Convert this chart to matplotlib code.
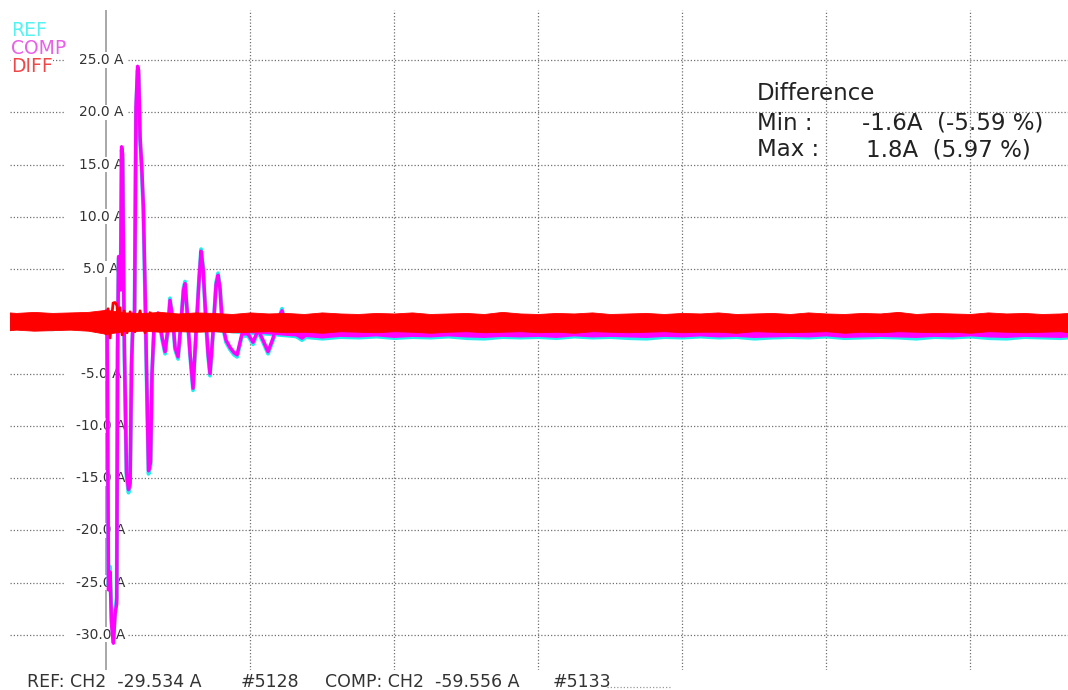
import matplotlib
matplotlib.use("Agg")
import matplotlib.pyplot as plt
from matplotlib.lines import Line2D

# time axis in grid divisions, currents in A

# transient part of COMP / REF
t_tr = [-0.069, -0.042, -0.014, 0.0, 0.007, 0.017, 0.028, 0.038, 0.051, 0.063,
        0.074, 0.080, 0.087, 0.097, 0.101, 0.108, 0.115, 0.122, 0.128, 0.142,
        0.156, 0.167, 0.177, 0.188, 0.198, 0.208, 0.219, 0.226, 0.236, 0.247,
        0.259, 0.271, 0.283, 0.295, 0.309, 0.319, 0.333, 0.361, 0.389, 0.410,
        0.431, 0.444, 0.465, 0.479, 0.500, 0.521, 0.538, 0.549, 0.563, 0.583,
        0.604, 0.625, 0.646, 0.660, 0.674, 0.694, 0.708, 0.722, 0.743, 0.764,
        0.778, 0.792, 0.806, 0.833, 0.861, 0.889, 0.910, 0.944, 0.986, 1.021,
        1.056, 1.090, 1.125, 1.160, 1.194, 1.222, 1.250, 1.292, 1.361, 1.417,
        1.472]
comp_tr = [0.3, -0.4, 0.5, 1.0, -0.5, -25.7, -24.0, -29.0, -30.8, -28.0,
           -27.0, -3.0, 6.2, 5.5, 3.0, 16.7, 16.0, 4.0, -3.0, -14.5,
           -16.1, -15.5, -4.0, 0.5, 1.0, 20.5, 24.4, 24.0, 17.7, 15.0,
           11.0, 3.0, -6.0, -14.3, -13.5, -5.0, -0.5, 0.8, -1.5, -2.9,
           -0.5, 2.0, 0.0, -2.5, -3.4, 0.0, 3.0, 3.6, 1.0, -3.0,
           -6.4, -1.0, 4.0, 6.7, 5.0, 0.0, -3.0, -5.0, -1.0, 3.5,
           4.4, 3.0, 0.0, -1.8, -2.5, -3.0, -3.2, -1.2, -1.2, -2.0,
           -0.8, -1.8, -2.9, -1.6, 0.2, 1.0, -0.5, -1.0, -1.6, -1.0,
           -0.6]
ref_tr = [0.1, -0.6, 0.3, 0.8, -0.3, -25.3, -23.5, -28.6, -30.4, -27.6,
          -26.5, -2.6, 6.0, 5.8, 3.3, 16.4, 15.6, 3.6, -3.3, -14.8,
          -16.4, -15.8, -4.3, 0.3, 0.8, 20.0, 24.0, 23.6, 17.3, 14.6,
          10.6, 2.6, -6.3, -14.6, -13.8, -5.3, -0.8, 0.6, -1.7, -3.1,
          -0.7, 2.2, -0.2, -2.7, -3.6, -0.2, 3.2, 3.8, 0.8, -3.2,
          -6.6, -1.2, 4.2, 6.9, 5.2, -0.2, -3.2, -5.2, -1.2, 3.7,
          4.6, 3.2, -0.2, -2.0, -2.7, -3.2, -3.4, -1.4, -1.4, -2.2,
          -1.0, -2.0, -3.1, -1.8, 0.0, 1.2, -0.7, -1.2, -1.8, -1.2,
          -0.8]

# DIFF disturbance during the transient
t_dtr = [-0.042, -0.021, 0.0, 0.014, 0.028, 0.042, 0.049, 0.063, 0.076, 0.087,
         0.097, 0.111, 0.125, 0.146, 0.167, 0.201, 0.236, 0.271, 0.306]
diff_tr = [0.6, -0.9, -1.2, 1.2, -1.6, 0.8, 1.75, 1.8, 1.5, -1.0,
           1.3, -1.3, 1.0, -1.1, 0.9, -1.0, 1.0, -1.1, 0.8]

# noise envelopes of the three traces
t_band = [-0.67, -0.625, -0.5, -0.375, -0.25, -0.125, 0.0, 0.125, 0.25, 0.375,
          0.5, 0.625, 0.75, 0.875, 1.0, 1.125, 1.25, 1.375, 1.5, 1.625,
          1.75, 1.875, 2.0, 2.125, 2.25, 2.375, 2.5, 2.625, 2.75, 2.875,
          3.0, 3.125, 3.25, 3.375, 3.5, 3.625, 3.75, 3.875, 4.0, 4.125,
          4.25, 4.375, 4.5, 4.625, 4.75, 4.875, 5.0, 5.125, 5.25, 5.375,
          5.5, 5.625, 5.75, 5.875, 6.0, 6.125, 6.25, 6.375, 6.5, 6.625,
          6.68]
diff_hi = [0.85, 0.8, 0.9, 0.8, 0.85, 0.9, 1.1, 0.85, 0.8, 0.9,
           0.75, 0.85, 0.8, 0.7, 0.85, 0.75, 0.8, 0.7, 0.85, 0.75,
           0.7, 0.8, 0.75, 0.85, 0.7, 0.75, 0.8, 0.7, 0.9, 0.75,
           0.7, 0.8, 0.75, 0.85, 0.7, 0.75, 0.8, 0.7, 0.8, 0.75,
           0.85, 0.7, 0.75, 0.8, 0.7, 0.85, 0.75, 0.7, 0.8, 0.75,
           0.9, 0.7, 0.8, 0.75, 0.7, 0.85, 0.75, 0.8, 0.7, 0.75,
           0.8]
diff_lo = [-0.85, -0.8, -0.9, -0.85, -0.8, -0.9, -1.2, -0.95, -0.9, -1.0,
           -0.95, -1.0, -0.95, -1.05, -1.0, -0.95, -1.05, -1.0, -1.1, -0.95,
           -1.0, -1.05, -0.95, -1.0, -1.1, -1.0, -0.95, -1.05, -1.0, -0.95,
           -1.05, -1.0, -1.1, -0.95, -1.0, -1.05, -1.0, -0.95, -1.05, -1.0,
           -1.0, -1.1, -0.95, -1.0, -1.05, -1.0, -0.95, -1.1, -1.0, -1.05,
           -0.95, -1.0, -1.05, -1.0, -1.1, -0.95, -1.0, -1.05, -1.0, -0.95,
           -1.05]
comp_hi = [0.5, 0.5, 0.5, 0.5, 0.5, 0.5, 0.5, 0.4, 0.3, 0.2,
           0.1, 0.0, -0.1, -0.2, -0.25, -0.3, -0.3, -0.3, -0.3, -0.3,
           -0.3, -0.3, -0.3, -0.3, -0.3, -0.3, -0.3, -0.3, -0.3, -0.3,
           -0.3, -0.3, -0.3, -0.3, -0.3, -0.3, -0.3, -0.3, -0.3, -0.3,
           -0.3, -0.3, -0.3, -0.3, -0.3, -0.3, -0.3, -0.3, -0.3, -0.3,
           -0.3, -0.3, -0.3, -0.3, -0.3, -0.3, -0.3, -0.3, -0.3, -0.3,
           -0.3]
comp_lo = [-0.6, -0.65, -0.6, -0.7, -0.6, -0.65, -0.6, -0.6, -0.6, -0.65,
           -0.7, -0.8, -0.9, -1.0, -1.1, -1.2, -1.35, -1.45, -1.6, -1.45,
           -1.5, -1.4, -1.55, -1.45, -1.5, -1.4, -1.5, -1.55, -1.45, -1.5,
           -1.45, -1.55, -1.4, -1.5, -1.45, -1.5, -1.55, -1.45, -1.5, -1.4,
           -1.5, -1.45, -1.55, -1.5, -1.45, -1.5, -1.4, -1.55, -1.5, -1.45,
           -1.5, -1.55, -1.45, -1.5, -1.4, -1.5, -1.55, -1.45, -1.5, -1.55,
           -1.5]
ref_hi = [0.3, 0.3, 0.3, 0.3, 0.3, 0.3, 0.3, 0.2, 0.1, 0.0,
          -0.1, -0.2, -0.3, -0.4, -0.45, -0.5, -0.5, -0.5, -0.5, -0.5,
          -0.5, -0.5, -0.5, -0.5, -0.5, -0.5, -0.5, -0.5, -0.5, -0.5,
          -0.5, -0.5, -0.5, -0.5, -0.5, -0.5, -0.5, -0.5, -0.5, -0.5,
          -0.5, -0.5, -0.5, -0.5, -0.5, -0.5, -0.5, -0.5, -0.5, -0.5,
          -0.5, -0.5, -0.5, -0.5, -0.5, -0.5, -0.5, -0.5, -0.5, -0.5,
          -0.5]
ref_lo = [-0.9, -0.75, -0.8, -0.9, -0.75, -0.85, -0.7, -0.7, -0.7, -0.75,
          -0.8, -0.9, -1.0, -1.1, -1.25, -1.35, -1.5, -1.65, -1.8, -1.65,
          -1.7, -1.6, -1.75, -1.65, -1.7, -1.6, -1.75, -1.8, -1.65, -1.7,
          -1.65, -1.75, -1.6, -1.7, -1.65, -1.75, -1.8, -1.65, -1.7, -1.6,
          -1.7, -1.65, -1.8, -1.7, -1.65, -1.7, -1.6, -1.75, -1.7, -1.65,
          -1.7, -1.8, -1.65, -1.7, -1.6, -1.75, -1.8, -1.65, -1.7, -1.75,
          -1.7]

y_ticks = [25, 20, 15, 10, 5, 0, -5, -10, -15, -20, -25, -30]
y_labels = ['25.0 A', '20.0 A', '15.0 A', '10.0 A', '5.0 A', '0.0 A', '-5.0 A',
            '-10.0 A', '-15.0 A', '-20.0 A', '-25.0 A', '-30.0 A']
x_grid = [1, 2, 3, 4, 5, 6]

c_ref = '#22eef0'
c_comp = '#ff00ff'
c_diff = '#ff0000'

W, H = 1068, 690
fig = plt.figure(figsize=(W / 100, H / 100), dpi=100)
fig.patch.set_facecolor('white')
ax = fig.add_axes([10 / W, 20 / H, 1058 / W, 660 / H])
x0, x1 = -0.667, 6.68
y0, y1 = -33.37, 29.79
ax.set_xlim(x0, x1)
ax.set_ylim(y0, y1)
ax.set_axis_off()

dots = (0, (1, 1.6))
# horizontal grid, broken where the labels sit
for y in y_ticks:
    ax.plot([x0, -0.292], [y, y], color='#707070', lw=0.9, ls=dots, zorder=1)
    ax.plot([0.153, x1], [y, y], color='#707070', lw=0.9, ls=dots, zorder=1)
for x in x_grid:
    ax.plot([x, x], [y0, y1], color='#707070', lw=0.9, ls=dots, zorder=1)
ax.plot([0, 0], [y0, y1], color='#999999', lw=1.2, zorder=1)

for y, lab in zip(y_ticks, y_labels):
    ax.text(-0.035, y, lab, ha='center', va='center', fontsize=10, color='#333333',
            bbox=dict(fc='white', ec='none', pad=0.5), zorder=2)

# traces: REF under COMP under DIFF
ax.fill_between(t_band, ref_lo, ref_hi, color=c_ref, lw=0, zorder=3)
ax.plot(t_tr, ref_tr, color=c_ref, lw=2.8, zorder=3.1)
ax.fill_between(t_band, comp_lo, comp_hi, color=c_comp, lw=0, zorder=4)
ax.plot(t_tr, comp_tr, color=c_comp, lw=2.5, zorder=4.1)
ax.fill_between(t_band, diff_lo, diff_hi, color=c_diff, lw=0.6, zorder=5)
ax.plot(t_dtr, diff_tr, color=c_diff, lw=2, zorder=5.1)

# channel names top left
for py, name, col in [(30, 'REF', '#55f2f2'), (48, 'COMP', '#e860e8'), (66, 'DIFF', '#f04848')]:
    fig.text(11 / W, 1 - py / H, name, ha='left', va='center', fontsize=13.5, color=col,
             bbox=dict(fc='white', ec='none', pad=0.3), zorder=10)

# difference box
txt = dict(fontsize=16.5, color='#222222', va='center')
fig.text(757 / W, 1 - 93 / H, 'Difference', **txt)
fig.text(757 / W, 1 - 123 / H, 'Min :', **txt)
fig.text(862 / W, 1 - 123 / H, '-1.6A  (-5.59 %)', **txt)
fig.text(757 / W, 1 - 150 / H, 'Max :', **txt)
fig.text(866 / W, 1 - 150 / H, '1.8A  (5.97 %)', **txt)

# status line at the bottom
st = dict(fontsize=12.5, color='#333333', va='center')
fig.text(27 / W, 1 - 682 / H, 'REF: CH2  -29.534 A', **st)
fig.text(241 / W, 1 - 682 / H, '#5128', **st)
fig.text(325 / W, 1 - 682 / H, 'COMP: CH2  -59.556 A', **st)
fig.text(553 / W, 1 - 682 / H, '#5133', **st)
fig.add_artist(Line2D([607 / W, 672 / W], [1 - 687 / H, 1 - 687 / H], color='#999999',
                      lw=0.9, ls=dots))

fig.savefig('out.png', dpi=100)
